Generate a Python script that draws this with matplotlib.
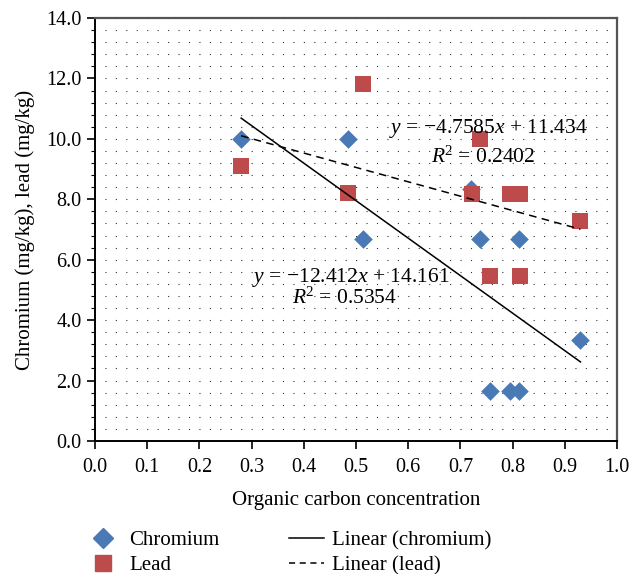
import numpy as np
import matplotlib
matplotlib.use("Agg")
import matplotlib.pyplot as plt
from matplotlib.lines import Line2D
from matplotlib.ticker import MultipleLocator, FormatStrFormatter

plt.rcParams['font.family'] = ['Liberation Serif', 'DejaVu Serif']
plt.rcParams['mathtext.fontset'] = 'custom'
plt.rcParams['mathtext.rm'] = 'Liberation Serif'
plt.rcParams['mathtext.it'] = 'Liberation Serif:italic'

# Data
cr_x = [0.28, 0.485, 0.513, 0.72, 0.738, 0.812, 0.757, 0.795, 0.812, 0.93]
cr_y = [10.0, 10.0, 6.67, 8.33, 6.67, 6.67, 1.67, 1.67, 1.67, 3.33]
pb_x = [0.28, 0.485, 0.513, 0.722, 0.737, 0.795, 0.814, 0.757, 0.814, 0.93]
pb_y = [9.1, 8.2, 11.82, 8.18, 10.0, 8.18, 8.18, 5.45, 5.45, 7.27]

cr_fit = (-12.412, 14.161, 0.5354)
pb_fit = (-4.7585, 11.434, 0.2402)

x_ticks = [0.0, 0.1, 0.2, 0.3, 0.4, 0.5, 0.6, 0.7, 0.8, 0.9, 1.0]
y_ticks = [0.0, 2.0, 4.0, 6.0, 8.0, 10.0, 12.0, 14.0]

blue = '#4a7ab5'
red = '#bd4b4b'

fig = plt.figure(figsize=(6.41, 5.74), dpi=100)
ax = fig.add_axes([95/641, 1-441/574, 522/641, 423/574])

ax.set_xlim(0, 1.0)
ax.set_ylim(0, 14.0)
ax.set_xticks(x_ticks)
ax.set_yticks(y_ticks)
ax.xaxis.set_major_formatter(FormatStrFormatter('%.1f'))
ax.yaxis.set_major_formatter(FormatStrFormatter('%.1f'))
ax.yaxis.set_minor_locator(MultipleLocator(0.4))
ax.tick_params(axis='both', which='major', labelsize=14.5, direction='out', length=6, width=1.2)
ax.tick_params(axis='y', which='minor', direction='out', length=3, width=0.8)
ax.tick_params(axis='x', which='major', pad=6)

# dotted grid
ax.grid(True, axis='y', which='both', color='#333333', linewidth=0.8,
        linestyle=(0.5, (1.0, 8.4)))
ax.grid(False, axis='x')
ax.set_axisbelow(True)

for s in ['left', 'bottom']:
    ax.spines[s].set_color('black')
    ax.spines[s].set_linewidth(1.4)
for s in ['top', 'right']:
    ax.spines[s].set_color('#555555')
    ax.spines[s].set_linewidth(1.6)

# scatter
ax.scatter(cr_x, cr_y, marker='D', s=90, color=blue, zorder=3, linewidths=0)
ax.scatter(pb_x, pb_y, marker='s', s=120, color=red, zorder=4, linewidths=0)

# trend lines
xr = np.array([min(cr_x), max(cr_x)])
ax.plot(xr, cr_fit[0]*xr + cr_fit[1], color='black', lw=1.1, zorder=5)
xr2 = np.array([min(pb_x), max(pb_x)])
ax.plot(xr2, pb_fit[0]*xr2 + pb_fit[1], color='black', lw=1.1,
        linestyle=(0, (5, 3.5)), zorder=5)

fs = 15.5
ax.text(0.753, 10.35, r'$y$ = −4.7585$x$ + 11.434', ha='center', va='center', fontsize=fs, zorder=6)
ax.text(0.743, 9.4, r'$R$$^2$ = 0.2402', ha='center', va='center', fontsize=fs, zorder=6)
ax.text(0.49, 5.4, r'$y$ = −12.412$x$ + 14.161', ha='center', va='center', fontsize=fs, zorder=6)
ax.text(0.478, 4.72, r'$R$$^2$ = 0.5354', ha='center', va='center', fontsize=fs, zorder=6)

ax.set_xlabel('Organic carbon concentration', fontsize=15, labelpad=10)
ax.set_ylabel('Chromium (mg/kg), lead (mg/kg)', fontsize=15, labelpad=8)

handles = [
    Line2D([], [], marker='D', color=blue, linestyle='none', markersize=10),
    Line2D([], [], marker='s', color=red, linestyle='none', markersize=11),
    Line2D([], [], color='black', lw=1.1),
    Line2D([], [], color='black', lw=1.1, linestyle=(0, (4, 3))),
]
labels = ['Chromium', 'Lead', 'Linear (chromium)', 'Linear (lead)']
fig.legend(handles, labels, loc='upper left', bbox_to_anchor=(67/641, 1-512/574),
           ncol=2, frameon=False, fontsize=15, handlelength=1.7,
           columnspacing=3.3, labelspacing=0.25, handletextpad=0.4)

fig.savefig('out.png', dpi=100)
